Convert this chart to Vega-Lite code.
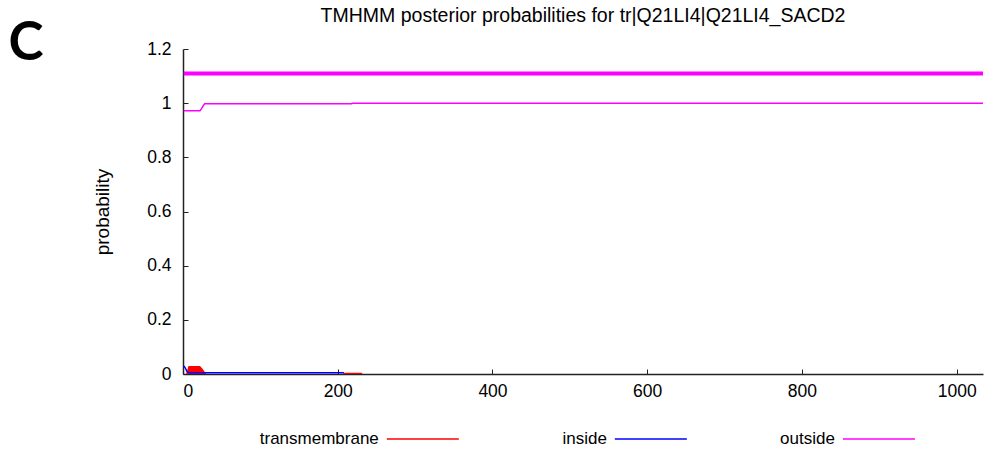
{
  "$schema": "https://vega.github.io/schema/vega-lite/v6.json",
  "background": "white",
  "padding": {"left": 8, "top": 5, "right": 0, "bottom": 0},
  "title": {"text": "C", "orient": "left", "angle": 0, "anchor": "end", "baseline": "top", "dy": 12, "font": "Lato", "fontWeight": "bold", "fontSize": 53, "color": "black", "offset": 15},
  "config": {
    "font": "Liberation Sans",
    "view": {"stroke": null},
    "axis": {
      "grid": false,
      "domainColor": "#222",
      "domainWidth": 1.5,
      "tickColor": "#222",
      "tickSize": -5,
      "tickWidth": 1,
      "labelFont": "Liberation Sans",
      "labelFontSize": 17.5,
      "labelColor": "black",
      "titleFont": "Liberation Sans",
      "titleFontSize": 19,
      "titleFontWeight": "normal",
      "titleColor": "black"
    }
  },
  "datasets": {
    "tm": [
      {"pos": 4, "prob": 0},
      {"pos": 7, "prob": 0.03},
      {"pos": 22, "prob": 0.03},
      {"pos": 25, "prob": 0.02},
      {"pos": 30, "prob": 0},
      {"pos": 207, "prob": 0},
      {"pos": 208, "prob": 0.005},
      {"pos": 231, "prob": 0.005},
      {"pos": 232, "prob": 0}
    ],
    "inside": [
      {"pos": 1, "prob": 0.03},
      {"pos": 3, "prob": 0.022},
      {"pos": 5, "prob": 0.01},
      {"pos": 7, "prob": 0.005},
      {"pos": 208, "prob": 0.005}
    ],
    "outside": [
      {"pos": 1, "prob": 0.972},
      {"pos": 22, "prob": 0.972},
      {"pos": 24, "prob": 0.98},
      {"pos": 26, "prob": 0.99},
      {"pos": 28, "prob": 0.998},
      {"pos": 218, "prob": 0.998},
      {"pos": 219, "prob": 1.0},
      {"pos": 1034, "prob": 1.0}
    ],
    "topology": [
      {"pos": 1, "prob": 1.11},
      {"pos": 1034, "prob": 1.11}
    ],
    "legend": [
      {"series": "transmembrane"},
      {"series": "inside"},
      {"series": "outside"}
    ]
  },
  "spacing": 29,
  "vconcat": [
    {
      "width": 800,
      "height": 325,
      "title": {"text": "TMHMM posterior probabilities for tr|Q21LI4|Q21LI4_SACD2", "font": "Liberation Sans", "fontSize": 19.5, "fontWeight": "normal", "color": "black", "offset": 14},
      "encoding": {
        "x": {"field": "pos", "type": "quantitative", "scale": {"domain": [0, 1034], "nice": false, "zero": false},
              "axis": {"title": null, "values": [0, 200, 400, 600, 800, 1000], "format": "d", "labelPadding": 13}},
        "y": {"field": "prob", "type": "quantitative", "scale": {"domain": [0, 1.2], "nice": false},
              "axis": {"title": "probability", "values": [0, 0.2, 0.4, 0.6, 0.8, 1, 1.2], "format": "~g", "labelPadding": 17, "titlePadding": 34}}
      },
      "layer": [
        {"data": {"name": "tm"}, "mark": {"type": "area", "color": "#ff0000", "interpolate": "linear"}},
        {"data": {"name": "inside"}, "mark": {"type": "line", "color": "#0000ff", "strokeWidth": 1.5}},
        {"data": {"name": "outside"}, "mark": {"type": "line", "color": "#ff00ff", "strokeWidth": 1.5}},
        {"data": {"name": "topology"}, "mark": {"type": "line", "color": "#ff00ff", "strokeWidth": 4}}
      ]
    },
    {
      "width": 800,
      "height": 20,
      "data": {"name": "legend"},
      "encoding": {
        "x": {"field": "series", "type": "nominal", "sort": ["transmembrane", "inside", "outside"],
              "scale": {"type": "point", "padding": 0.754, "align": 0.581}, "axis": null}
      },
      "layer": [
        {"mark": {"type": "text", "align": "right", "dx": -4, "fontSize": 17, "font": "Liberation Sans", "color": "black"},
         "encoding": {"text": {"field": "series", "type": "nominal"}}},
        {"mark": {"type": "point", "shape": "stroke", "size": 5184, "filled": false, "strokeWidth": 1.5, "xOffset": 40, "opacity": 1},
         "encoding": {"color": {"field": "series", "type": "nominal",
                                "scale": {"domain": ["transmembrane", "inside", "outside"], "range": ["#ff0000", "#0000ff", "#ff00ff"]},
                                "legend": null}}}
      ]
    }
  ]
}
